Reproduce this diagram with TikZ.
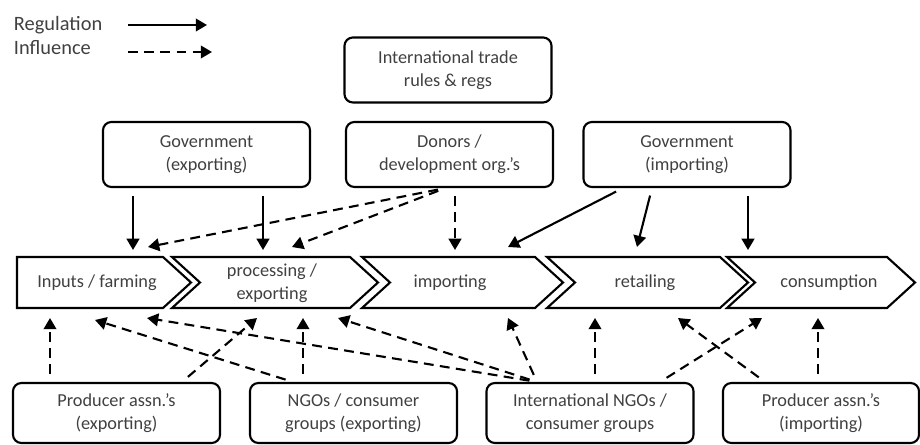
\documentclass[tikz,border=0pt]{standalone}
\usepackage{fontspec}
\setmainfont{Carlito}
\usepackage{tikz}
\usetikzlibrary{arrows.meta}
\usepackage{xcolor}
\definecolor{textgray}{RGB}{64, 64, 64}

\begin{document}
\begin{tikzpicture}[
    x=0.025cm, y=-0.025cm,
    actor/.style={draw, rounded corners=6pt, line width=1.5pt, minimum width=5.175cm, minimum height=1.625cm, align=center, text=textgray, font=\fontsize{13}{16.5}\selectfont},
    stage/.style={align=center, text=textgray, font=\fontsize{13}{16.5}\selectfont},
    stagebox/.style={draw, line width=1.5pt, line join=miter},
    legend/.style={text=textgray, font=\fontsize{14.5}{16}\selectfont},
    reg/.style={-{Triangle[length=8pt, width=9pt]}, line width=1.5pt, shorten <=5.5pt},
    infl/.style={reg, dash pattern=on 7pt off 4.5pt}
]
    \useasboundingbox (0,0) rectangle (920,445);

    % Legend
    \node[legend, anchor=west] (reglab) at (9,25) {Regulation};
    \node[legend, anchor=west] (infllab) at (9,48) {Influence};
    \coordinate (rega) at (128,25);
    \coordinate (regb) at (207,25);
    \coordinate (infla) at (128,52);
    \coordinate (inflb) at (212,52);
    \draw[reg, shorten <=0pt] (rega) -- (regb);
    \draw[infl, shorten <=0pt] (infla) -- (inflb);

    % Top actors
    \node[actor] (trade) at (448,70) {International trade\\rules \& regs};
    \node[actor] (govexp) at (206.5,154.5) {Government\\(exporting)};
    \node[actor] (donors) at (449.5,154.5) {Donors /\\development org.’s};
    \node[actor] (govimp) at (687,154.5) {Government\\(importing)};

    % Value chain
    \draw[stagebox] (17,257) -- (163,257) -- ++(28,25.5) -- (163,308) -- (17,308) -- cycle;
    \node[stage] (farm) at (97,282.5) {Inputs / farming};
    \foreach \l/\r/\mx/\nm/\txt in {172/350/272/proc/{processing /\\exporting},
                                    362/535/450/imp/importing,
                                    547/720/645/ret/retailing,
                                    727/887/829/cons/consumption} {
        \draw[stagebox] (\l,257) -- (\r,257) -- ++(28,25.5) -- (\r,308) -- (\l,308) -- ++(28,-25.5) -- cycle;
        \node[stage] (\nm) at (\mx,283) {\txt};
    }

    % Bottom actors
    \node[actor, minimum height=1.5cm] (prodexp) at (116.5,413) {Producer assn.’s\\(exporting)};
    \node[actor, minimum height=1.5cm] (ngoexp) at (353.5,413) {NGOs / consumer\\groups (exporting)};
    \node[actor, minimum height=1.5cm] (intngo) at (590,413) {International NGOs /\\consumer groups};
    \node[actor, minimum height=1.5cm, minimum width=4.9cm] (prodimp) at (821,413) {Producer assn.’s\\(importing)};

    % Arrow ends above the chain
    \coordinate (ge1) at (133,250);
    \coordinate (ge2) at (263,250);
    \coordinate (do1) at (148,247);
    \coordinate (do2) at (292,247);
    \coordinate (do3) at (455,250);
    \coordinate (gi1) at (508,247);
    \coordinate (gi2) at (637,247);
    \coordinate (gi3) at (748,250);

    % Arrow ends below the chain
    \coordinate (pe1) at (50,318);
    \coordinate (pe2) at (257,318);
    \coordinate (ne1) at (95,320);
    \coordinate (ne2) at (303,318);
    \coordinate (in1) at (147,318);
    \coordinate (in2) at (338,318);
    \coordinate (in3) at (508,318);
    \coordinate (in4) at (595,318);
    \coordinate (in5) at (762,318);
    \coordinate (pi1) at (678,318);
    \coordinate (pi2) at (818,318);

    % Government (exporting)
    \draw[reg] (govexp.south -| ge1) -- (ge1);
    \draw[reg] (govexp.south -| ge2) -- (ge2);

    % Donors
    \draw[infl] ([xshift=-0.1cm]donors.south) -- (do1);
    \draw[infl] ([xshift=-0.1cm]donors.south) -- (do2);
    \draw[infl] (donors.south -| do3) -- (do3);

    % Government (importing)
    \draw[reg] ([xshift=-1.6cm]govimp.south) -- (gi1);
    \draw[reg] ([xshift=-0.875cm]govimp.south) -- (gi2);
    \draw[reg] (govimp.south -| gi3) -- (gi3);

    % Producers and NGOs
    \draw[infl] (prodexp.north -| pe1) -- (pe1);
    \draw[infl] ([xshift=1.6375cm]prodexp.north) -- (pe2);
    \draw[infl] ([xshift=-1.5125cm]ngoexp.north) -- (ne1);
    \draw[infl] (ngoexp.north -| ne2) -- (ne2);
    \foreach \t in {in1, in2, in3} {
        \draw[infl] ([xshift=-1.325cm]intngo.north) -- (\t);
    }
    \draw[infl] (intngo.north -| in4) -- (in4);
    \draw[infl] ([xshift=1.75cm]intngo.north) -- (in5);
    \draw[infl] ([xshift=-1.4cm]prodimp.north) -- (pi1);
    \draw[infl] (prodimp.north -| pi2) -- (pi2);
\end{tikzpicture}
\end{document}
